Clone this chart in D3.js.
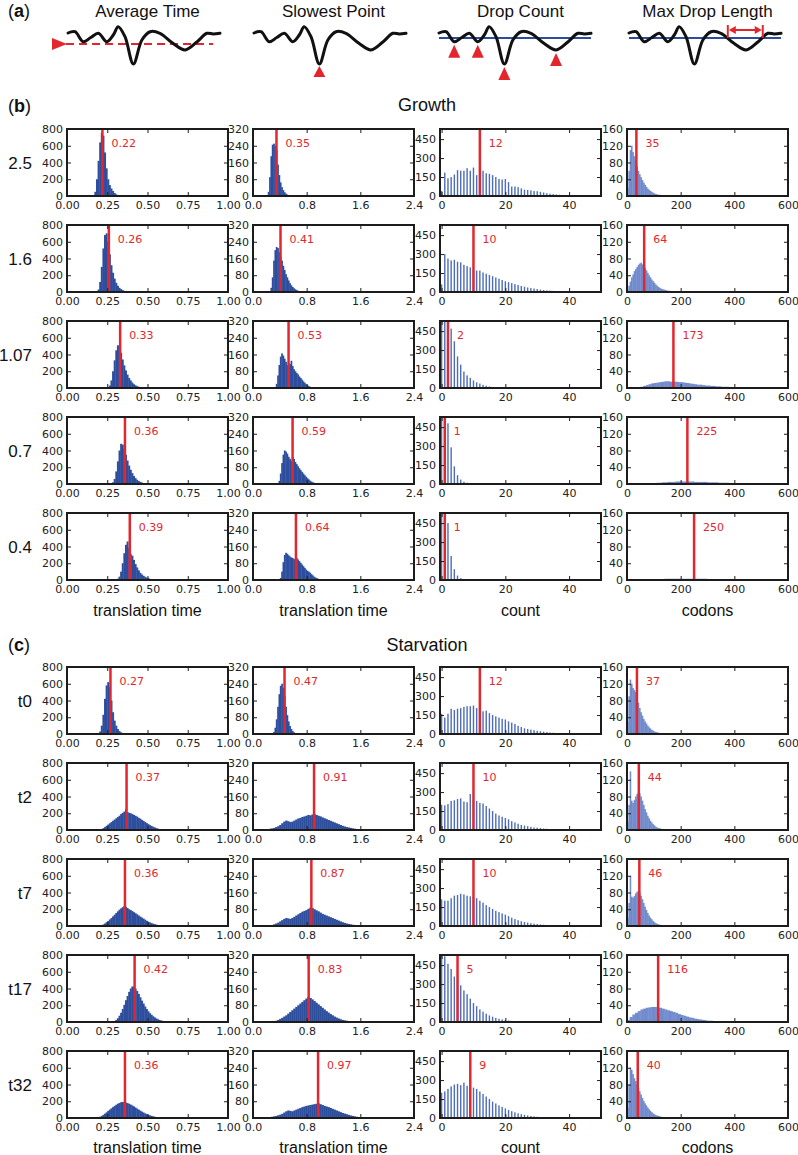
<!DOCTYPE html>
<html><head><meta charset="utf-8">
<script src="https://cdn.jsdelivr.net/npm/d3@7"></script>
<style>body{margin:0;background:#fff} svg{display:block}</style>
</head><body><svg id="c" width="798" height="1155"></svg>
<script>
// ---------------- DATA ----------------
const panelATitles = ["Average Time", "Slowest Point", "Drop Count", "Max Drop Length"];
const waveFrac = [0, 0.046, 0.1, 0.15, 0.2, 0.255, 0.3, 0.33, 0.375, 0.43, 0.486, 0.54, 0.605, 0.69, 0.77, 0.85, 0.914, 0.955, 1.0];
const waveDip  = [0, -1.3, 8.7, 4.5, 0.3, 8.7, 1.5, -6.3, 3.7, 31, 7, -1.3, 0.3, 10.3, 17, 8.7, 0.3, 1, 0.3];
const avgLevel = 11;
const dropThreshold = 5;
const dropMarks = [2, 5, 9, 14];
const maxDropSpan = [0.65, 0.88];

const growthLabels = ["2.5", "1.6", "1.07", "0.7", "0.4"];
const starvLabels = ["t0", "t2", "t7", "t17", "t32"];
const axisLabels = ["translation time", "translation time", "count", "codons"];

const avgXTicks = [0, 0.25, 0.5, 0.75, 1.0];
const avgYTicks = [0, 200, 400, 600, 800];
const slowXTicks = [0, 0.8, 1.6, 2.4];
const slowYTicks = [0, 80, 160, 240, 320];
const dropXTicks = [0, 20, 40];
const dropYTicks = [0, 150, 300, 450];
const lenXTicks = [0, 200, 400, 600];
const lenYTicks = [0, 40, 80, 120, 160];

// medians
const growthAvgMedian = [0.22, 0.26, 0.33, 0.36, 0.39];
const growthSlowMedian = [0.35, 0.41, 0.53, 0.59, 0.64];
const growthDropMedian = [12, 10, 2, 1, 1];
const growthLenMedian = [35, 64, 173, 225, 250];
const starvAvgMedian = [0.27, 0.37, 0.36, 0.42, 0.36];
const starvSlowMedian = [0.47, 0.91, 0.87, 0.83, 0.97];
const starvDropMedian = [12, 10, 10, 5, 9];
const starvLenMedian = [37, 44, 46, 116, 40];

// Growth: average time histograms (bin 0.01)
const growthAvgStart = [0.17, 0.19, 0.26, 0.28, 0.31];
const growthAvgStep = [0.01, 0.01, 0.01, 0.01, 0.01];
const growthAvgCounts = [
  [50, 200, 420, 640, 750, 720, 520, 330, 200, 130, 90, 60, 35, 20, 12, 6, 3],
  [30, 120, 300, 520, 680, 700, 600, 450, 320, 230, 160, 110, 75, 50, 35, 22, 14, 8, 5, 3, 2],
  [30, 90, 200, 330, 450, 510, 480, 420, 340, 270, 210, 160, 120, 90, 65, 45, 32, 22, 15, 10, 7, 5, 3, 2],
  [20, 60, 150, 270, 400, 480, 470, 420, 350, 280, 220, 170, 130, 95, 70, 50, 35, 25, 17, 12, 8, 5, 3, 2],
  [15, 40, 100, 200, 320, 420, 460, 380, 310, 290, 240, 190, 150, 115, 85, 65, 50, 38, 28, 20, 14, 10, 7, 5, 3, 2]
];
// Growth: slowest point histograms
const growthSlowStart = [0.22, 0.26, 0.34, 0.38, 0.40];
const growthSlowStep = [0.02, 0.02, 0.02, 0.02, 0.02];
const growthSlowCounts = [
  [20, 90, 190, 245, 250, 240, 220, 150, 100, 65, 42, 28, 18, 11, 7, 4, 2, 1],
  [20, 70, 150, 200, 215, 210, 190, 170, 150, 125, 105, 85, 70, 55, 42, 32, 24, 18, 13, 9, 6, 4, 3, 2, 1],
  [20, 60, 110, 150, 165, 155, 140, 125, 110, 100, 115, 130, 105, 90, 80, 72, 65, 55, 48, 40, 32, 25, 18, 13, 9, 6, 4, 3, 2, 1, 1],
  [15, 50, 100, 140, 160, 155, 145, 130, 120, 110, 130, 120, 105, 95, 85, 75, 66, 58, 50, 42, 35, 28, 22, 16, 12, 8, 6, 4, 3, 2, 1],
  [10, 40, 85, 120, 130, 125, 118, 112, 108, 105, 100, 95, 105, 98, 90, 82, 74, 66, 58, 50, 44, 40, 35, 28, 22, 16, 12, 9, 6, 4, 3, 2, 1]
];
// Growth: drop count (one bar per integer count, from 0)
const growthDropCounts = [
  [40, 185, 140, 150, 170, 205, 200, 200, 220, 200, 225, 165, 190, 200, 180, 175, 165, 150, 135, 130, 135, 110, 75, 75, 70, 60, 50, 48, 45, 40, 38, 33, 28, 22, 18, 15, 12, 10, 8, 6, 4],
  [60, 300, 265, 250, 255, 240, 235, 215, 205, 195, 175, 170, 170, 155, 145, 135, 125, 115, 105, 95, 85, 78, 70, 62, 55, 48, 42, 36, 31, 27, 23, 19, 16, 13, 11, 9, 7, 6, 4, 3, 2],
  [600, 560, 520, 470, 370, 250, 185, 130, 100, 80, 60, 45, 35, 25, 18, 12, 8, 5, 3, 2],
  [900, 700, 480, 290, 140, 70, 35, 18, 10, 5, 3, 2],
  [900, 800, 450, 190, 85, 35, 15, 8, 4, 2]
];
// Growth: max drop length
const growthLenStart = [0, 0, 50, 80, 100];
const growthLenStep = [5, 5, 10, 10, 10];
const growthLenCounts = [
  [20, 60, 110, 120, 105, 95, 85, 70, 60, 52, 45, 38, 32, 27, 22, 18, 15, 12, 10, 8, 6, 5, 4, 3, 3, 2, 2, 1, 1],
  [5, 15, 25, 35, 42, 50, 55, 60, 65, 68, 70, 66, 62, 58, 52, 46, 40, 35, 30, 26, 22, 18, 15, 12, 10, 8, 7, 6, 5, 4, 3, 3, 2, 2, 1, 1],
  [3, 5, 7, 9, 11, 12, 13, 14, 15, 16, 16, 15, 15, 15, 14, 14, 13, 12, 11, 10, 9, 8, 8, 7, 6, 6, 5, 5, 4, 4, 3, 3, 3, 2, 2, 2, 1, 1],
  [1, 2, 2, 3, 3, 4, 4, 5, 5, 5, 6, 6, 6, 6, 6, 6, 6, 5, 5, 5, 5, 5, 4, 4, 4, 4, 3, 3, 3, 3, 2, 2, 2, 2, 2, 1, 1, 1, 1, 1, 1],
  [1, 2, 2, 2, 3, 3, 3, 3, 3, 3, 3, 3, 3, 3, 3, 3, 3, 3, 3, 3, 2, 2, 2, 2, 2, 2, 1]
];

// Starvation: average time
const starvAvgStart = [0.20, 0.20, 0.20, 0.28, 0.18];
const starvAvgStep = [0.01, 0.01, 0.01, 0.01, 0.01];
const starvAvgCounts = [
  [30, 100, 230, 420, 580, 620, 560, 400, 260, 160, 100, 60, 35, 20, 10, 5],
  [5, 12, 22, 35, 50, 65, 80, 95, 110, 125, 140, 155, 170, 190, 205, 220, 250, 215, 205, 200, 190, 180, 170, 160, 145, 135, 120, 108, 95, 82, 70, 58, 48, 38, 30, 22, 16, 11, 7, 4, 3, 2, 1],
  [4, 10, 18, 30, 45, 60, 78, 95, 115, 135, 155, 175, 195, 210, 225, 240, 230, 215, 200, 190, 178, 165, 152, 140, 125, 112, 100, 88, 75, 62, 52, 42, 34, 27, 21, 16, 12, 8, 5, 3, 2, 1],
  [5, 12, 25, 45, 75, 110, 155, 205, 260, 310, 360, 400, 425, 420, 400, 370, 335, 295, 255, 220, 185, 155, 128, 105, 85, 68, 54, 42, 32, 24, 18, 13, 9, 6, 4, 3, 2, 1],
  [3, 8, 15, 25, 38, 52, 68, 85, 100, 115, 130, 145, 158, 170, 180, 188, 192, 190, 185, 178, 170, 160, 150, 138, 125, 112, 100, 88, 76, 65, 55, 46, 38, 31, 25, 20, 15, 11, 8, 6, 4, 3, 2, 1]
];
// Starvation: slowest point
const starvSlowStart = [0.30, 0.21, 0.24, 0.30, 0.21];
const starvSlowStep = [0.02, 0.03, 0.03, 0.03, 0.03];
const starvSlowCounts = [
  [10, 30, 70, 130, 190, 230, 240, 220, 180, 130, 90, 60, 38, 24, 14, 8, 4, 2, 1],
  [4, 6, 8, 10, 14, 18, 24, 32, 40, 45, 42, 38, 40, 45, 50, 55, 58, 62, 65, 68, 72, 70, 74, 76, 72, 68, 65, 60, 56, 52, 48, 44, 40, 36, 32, 28, 24, 20, 17, 14, 12, 10, 8, 6, 5, 4, 3, 2, 2, 1, 1],
  [3, 5, 8, 12, 16, 22, 28, 34, 38, 36, 34, 38, 44, 50, 56, 62, 68, 72, 76, 82, 88, 86, 80, 75, 70, 64, 58, 54, 50, 46, 42, 38, 34, 30, 26, 22, 18, 15, 12, 10, 8, 6, 5, 4, 3, 2, 2, 1],
  [3, 6, 10, 15, 20, 26, 32, 40, 48, 56, 64, 72, 80, 88, 96, 104, 112, 120, 115, 108, 100, 92, 84, 76, 68, 60, 52, 45, 38, 32, 26, 21, 17, 13, 10, 8, 6, 4, 3, 2, 1, 1],
  [2, 4, 6, 8, 10, 13, 16, 20, 26, 32, 36, 34, 32, 36, 40, 44, 48, 52, 55, 58, 60, 62, 64, 66, 68, 70, 66, 62, 58, 55, 52, 48, 44, 40, 36, 32, 28, 24, 21, 18, 15, 12, 10, 8, 6, 5, 4, 3, 2, 2, 1, 1, 1, 1]
];
// Starvation: drop count
const starvDropCounts = [
  [160, 130, 160, 200, 190, 200, 205, 215, 220, 220, 225, 205, 200, 180, 185, 165, 150, 140, 130, 120, 115, 100, 90, 80, 65, 55, 45, 40, 35, 30, 25, 22, 18, 15, 12, 10, 8, 6, 5, 4, 3, 2],
  [200, 195, 205, 230, 235, 245, 250, 225, 220, 285, 240, 230, 215, 210, 190, 170, 150, 130, 115, 105, 95, 85, 70, 60, 50, 40, 35, 30, 25, 20, 18, 15, 12, 10, 8, 6, 5, 4, 3, 2, 2],
  [210, 200, 200, 220, 240, 245, 255, 250, 240, 235, 230, 220, 200, 185, 165, 150, 135, 120, 110, 100, 90, 78, 66, 55, 46, 38, 32, 27, 22, 18, 15, 12, 10, 8, 6, 5, 4, 3, 2],
  [600, 520, 460, 420, 360, 330, 290, 250, 220, 185, 150, 125, 100, 82, 66, 52, 42, 33, 26, 20, 15, 12, 9, 7, 5, 4, 3, 2],
  [200, 210, 230, 250, 265, 270, 260, 280, 255, 250, 240, 230, 210, 190, 170, 150, 130, 115, 100, 88, 76, 64, 54, 45, 37, 30, 25, 20, 16, 13, 10, 8, 6, 5, 4, 3, 2]
];
// Starvation: max drop length
const starvLenStart = [0, 0, 0, 0, 0];
const starvLenStep = [5, 5, 5, 10, 5];
const starvLenCounts = [
  [30, 90, 130, 120, 110, 105, 100, 90, 75, 62, 52, 44, 36, 30, 25, 20, 16, 13, 10, 8, 6, 5, 4, 3, 2, 2, 1, 1],
  [20, 60, 140, 70, 65, 72, 80, 86, 90, 88, 80, 70, 60, 50, 42, 34, 28, 22, 18, 14, 11, 8, 6, 5, 4, 3, 2, 2, 1, 1],
  [20, 55, 120, 70, 68, 72, 78, 82, 85, 80, 72, 64, 55, 46, 38, 31, 25, 20, 16, 12, 9, 7, 5, 4, 3, 2, 2, 1, 1],
  [5, 12, 18, 22, 26, 30, 32, 34, 35, 36, 36, 35, 34, 32, 30, 28, 26, 24, 22, 19, 17, 15, 13, 11, 10, 8, 7, 6, 5, 4, 3, 3, 2, 2, 1, 1],
  [25, 80, 120, 115, 105, 95, 88, 80, 72, 64, 56, 48, 41, 35, 30, 25, 21, 17, 14, 11, 9, 7, 6, 5, 4, 3, 2, 2, 1, 1]
];

// ---------------- DRAWING ----------------
const svg = d3.select("#c");
const FT = "'Liberation Sans', Arial, Helvetica, sans-serif";
const FM = "'DejaVu Sans', sans-serif";
const RED = "#e3262d";
const BLUE = "#2c4c9c";
const INK = "#1c1c1c";
const W = 161, H = 67;
const colLeft = [67, 253, 440, 627];
const growthTops = [129, 225, 321, 417, 513];
const starvTops = [667, 763, 859, 955, 1051];

const colSpecs = [
  {xd: [0, 1], xt: avgXTicks, xf: d3.format(".2f"), ymax: 800, yt: avgYTicks, kind: "solid", mf: d3.format(".2f")},
  {xd: [0, 2.4], xt: slowXTicks, xf: d3.format(".1f"), ymax: 320, yt: slowYTicks, kind: "solid", mf: d3.format(".2f")},
  {xd: [-0.5, 50], xt: dropXTicks, xf: d3.format("d"), ymax: 530, yt: dropYTicks, kind: "thin", mf: d3.format("d")},
  {xd: [0, 600], xt: lenXTicks, xf: d3.format("d"), ymax: 160, yt: lenYTicks, kind: "soft", mf: d3.format("d")}
];

let clipN = 0;
function styleAxis(sel) {
  sel.select(".domain").remove();
  sel.selectAll("line").attr("stroke", INK).attr("stroke-width", 1);
  sel.selectAll("text").attr("font-family", FM).attr("font-size", 11).attr("fill", "#222");
}
function panel(col, top, counts, start, step, median) {
  const spec = colSpecs[col];
  const x0 = colLeft[col];
  const xs = d3.scaleLinear().domain(spec.xd).range([x0, x0 + W]);
  const ys = d3.scaleLinear().domain([0, spec.ymax]).range([top + H, top]);
  const g = svg.append("g");
  const id = "clip" + (clipN++);
  g.append("clipPath").attr("id", id).append("rect")
    .attr("x", x0).attr("y", top).attr("width", W).attr("height", H);
  const bars = g.append("g").attr("clip-path", `url(#${id})`);
  const bins = counts.map((c, i) => ({x: start + i * step, c}));
  const sel = bars.selectAll("rect").data(bins).join("rect")
    .attr("y", d => ys(d.c)).attr("height", d => ys(0) - ys(d.c));
  if (spec.kind === "solid") {
    sel.attr("x", d => xs(d.x)).attr("width", d => xs(d.x + step) - xs(d.x) + 0.4).attr("fill", "#2d4d9d");
  } else if (spec.kind === "thin") {
    sel.attr("x", d => xs(d.x) - 0.7).attr("width", 1.4).attr("fill", "#4e6db8");
  } else {
    sel.attr("x", d => xs(d.x)).attr("width", d => xs(d.x + step) - xs(d.x) + 0.2)
       .attr("fill", "#4467bd").attr("opacity", 0.75);
  }
  // median line and label
  g.append("line").attr("x1", xs(median)).attr("x2", xs(median))
    .attr("y1", top).attr("y2", top + H).attr("stroke", RED).attr("stroke-width", 2.5);
  g.append("text").attr("x", xs(median) + 9).attr("y", top + 18)
    .attr("font-family", FM).attr("font-size", 11).attr("fill", RED).text(spec.mf(median));
  // axes (ticks inward)
  g.append("g").attr("transform", `translate(${x0},0)`)
    .call(d3.axisLeft(ys).tickValues(spec.yt).tickSizeInner(-4).tickSizeOuter(0).tickPadding(4).tickFormat(d3.format("d")))
    .call(styleAxis);
  g.append("g").attr("transform", `translate(${x0 + W},0)`)
    .call(d3.axisRight(ys).tickValues(spec.yt).tickSizeInner(-4).tickSizeOuter(0).tickFormat(""))
    .call(styleAxis);
  g.append("g").attr("transform", `translate(0,${top + H})`)
    .call(d3.axisBottom(xs).tickValues(spec.xt).tickSizeInner(-4).tickSizeOuter(0).tickPadding(5).tickFormat(spec.xf))
    .call(styleAxis);
  g.append("g").attr("transform", `translate(0,${top})`)
    .call(d3.axisTop(xs).tickValues(spec.xt).tickSizeInner(-4).tickSizeOuter(0).tickFormat(""))
    .call(styleAxis);
  g.append("rect").attr("x", x0).attr("y", top).attr("width", W).attr("height", H)
    .attr("fill", "none").attr("stroke", INK).attr("stroke-width", 2);
}

function section(tops, labels, sets) {
  tops.forEach((top, r) => {
    svg.append("text").attr("x", 32).attr("y", top + H / 2 + 6).attr("text-anchor", "end")
      .attr("font-family", FT).attr("font-size", 17).attr("fill", "#111").text(labels[r]);
    sets.forEach((s, c) => panel(c, top, s.counts[r], s.start[r], s.step[r], s.median[r]));
  });
}

function panelLabel(x, y, letter) {
  const t = svg.append("text").attr("x", x).attr("y", y).attr("font-family", FT).attr("font-size", 18).attr("fill", "#111");
  t.append("tspan").text("(");
  t.append("tspan").attr("font-weight", "bold").text(letter);
  t.append("tspan").text(")");
}

// ---- panel (a)
panelLabel(8, 17, "a");
const colCenter = colLeft.map(x => x + W / 2);
panelATitles.forEach((t, i) => {
  svg.append("text").attr("x", colCenter[i]).attr("y", 17).attr("text-anchor", "middle")
    .attr("font-family", FT).attr("font-size", 17).attr("fill", "#111").text(t);
});
const waveCenters = [144, 330, 515, 705];
const waveData = waveFrac.map((f, i) => ({f, d: waveDip[i]}));
waveCenters.forEach((cx, k) => {
  const wx = d3.scaleLinear().domain([0, 1]).range([cx - 76, cx + 76]);
  const wy = d3.scaleLinear().domain([0, 10]).range([33, 43]);
  const g = svg.append("g");
  if (k === 2 || k === 3) {
    g.append("line").attr("x1", wx(0)).attr("x2", wx(1)).attr("y1", wy(dropThreshold)).attr("y2", wy(dropThreshold))
      .attr("stroke", BLUE).attr("stroke-width", 2);
  }
  if (k === 0) {
    const y = wy(avgLevel);
    g.append("line").attr("x1", wx(0) - 2).attr("x2", wx(0.955)).attr("y1", y).attr("y2", y)
      .attr("stroke", RED).attr("stroke-width", 2).attr("stroke-dasharray", "8,5");
  }
  g.append("path").datum(waveData)
    .attr("d", d3.line().x(d => wx(d.f)).y(d => wy(d.d)).curve(d3.curveCatmullRom.alpha(0.5)))
    .attr("fill", "none").attr("stroke", "#111").attr("stroke-width", 3).attr("stroke-linecap", "round");
  if (k === 0) {
    const y = wy(avgLevel), tx = wx(0) - 1;
    g.append("path").attr("d", `M${tx},${y} L${tx - 15},${y - 6} L${tx - 15},${y + 6} Z`).attr("fill", RED);
  }
  if (k === 1) {
    const i = waveDip.indexOf(d3.max(waveDip));
    const ax = wx(waveFrac[i]), ay = wy(waveDip[i]) + 2;
    g.append("path").attr("d", `M${ax},${ay} L${ax - 6},${ay + 11} L${ax + 6},${ay + 11} Z`).attr("fill", RED);
  }
  if (k === 2) {
    dropMarks.forEach(i => {
      const ax = wx(waveFrac[i]), ay = wy(waveDip[i]) + 3;
      g.append("path").attr("d", `M${ax},${ay} L${ax - 6},${ay + 13} L${ax + 6},${ay + 13} Z`).attr("fill", RED);
    });
  }
  if (k === 3) {
    const xa = wx(maxDropSpan[0]), xb = wx(maxDropSpan[1]), y = 30;
    g.append("line").attr("x1", xa + 4).attr("x2", xb - 4).attr("y1", y).attr("y2", y).attr("stroke", RED).attr("stroke-width", 2);
    g.append("path").attr("d", `M${xa + 1},${y} L${xa + 8},${y - 4} L${xa + 8},${y + 4} Z`).attr("fill", RED);
    g.append("path").attr("d", `M${xb - 1},${y} L${xb - 8},${y - 4} L${xb - 8},${y + 4} Z`).attr("fill", RED);
    [xa, xb].forEach(x => g.append("line").attr("x1", x).attr("x2", x).attr("y1", 25).attr("y2", 38)
      .attr("stroke", RED).attr("stroke-width", 2));
  }
});

// ---- panel (b) Growth
panelLabel(8, 112, "b");
svg.append("text").attr("x", 427).attr("y", 111).attr("text-anchor", "middle")
  .attr("font-family", FT).attr("font-size", 18).attr("fill", "#111").text("Growth");
section(growthTops, growthLabels, [
  {counts: growthAvgCounts, start: growthAvgStart, step: growthAvgStep, median: growthAvgMedian},
  {counts: growthSlowCounts, start: growthSlowStart, step: growthSlowStep, median: growthSlowMedian},
  {counts: growthDropCounts, start: growthDropCounts.map(() => 0), step: growthDropCounts.map(() => 1), median: growthDropMedian},
  {counts: growthLenCounts, start: growthLenStart, step: growthLenStep, median: growthLenMedian}
]);
axisLabels.forEach((t, i) => svg.append("text").attr("x", colCenter[i]).attr("y", 616).attr("text-anchor", "middle")
  .attr("font-family", FT).attr("font-size", 16).attr("fill", "#111").text(t));

// ---- panel (c) Starvation
panelLabel(8, 651, "c");
svg.append("text").attr("x", 427).attr("y", 651).attr("text-anchor", "middle")
  .attr("font-family", FT).attr("font-size", 18).attr("fill", "#111").text("Starvation");
section(starvTops, starvLabels, [
  {counts: starvAvgCounts, start: starvAvgStart, step: starvAvgStep, median: starvAvgMedian},
  {counts: starvSlowCounts, start: starvSlowStart, step: starvSlowStep, median: starvSlowMedian},
  {counts: starvDropCounts, start: starvDropCounts.map(() => 0), step: starvDropCounts.map(() => 1), median: starvDropMedian},
  {counts: starvLenCounts, start: starvLenStart, step: starvLenStep, median: starvLenMedian}
]);
axisLabels.forEach((t, i) => svg.append("text").attr("x", colCenter[i]).attr("y", 1153).attr("text-anchor", "middle")
  .attr("font-family", FT).attr("font-size", 16).attr("fill", "#111").text(t));
</script></body></html>
